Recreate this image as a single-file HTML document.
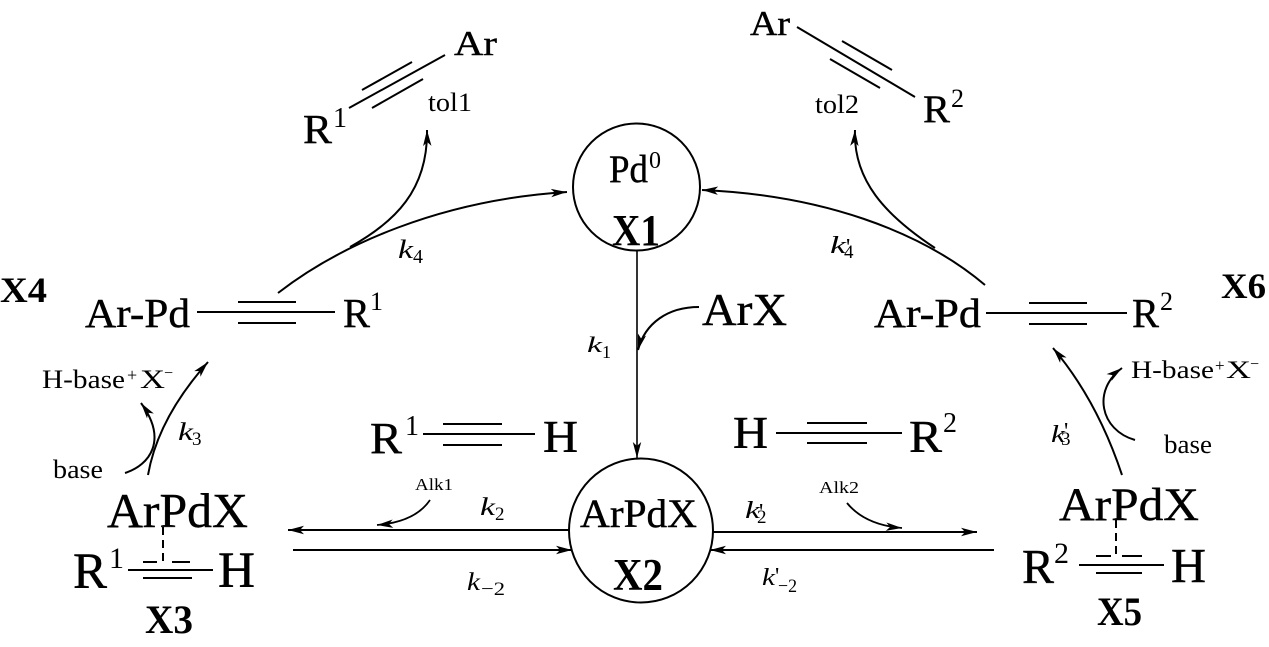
<!DOCTYPE html>
<html>
<head>
<meta charset="utf-8">
<style>
html,body{margin:0;padding:0;background:#fff;}
svg{display:block;}
text{font-family:"Liberation Serif","Times New Roman",serif;fill:#000;}
.h{stroke:#000;stroke-width:0.4;}
.i{font-style:italic;}
.b{font-weight:bold;}
</style>
</head>
<body>
<svg width="1269" height="647" viewBox="0 0 1269 647" xmlns="http://www.w3.org/2000/svg">
<defs>
<marker id="ah" markerUnits="userSpaceOnUse" viewBox="-17 -6 18 12" markerWidth="18" markerHeight="12" refX="0" refY="0" orient="auto">
<path d="M0,0 L-16,-4.2 L-12,0 L-16,4.2 Z" fill="#000"/>
</marker>
</defs>

<g stroke="#000" stroke-width="2" fill="none">
<circle cx="636.5" cy="187" r="63.5"/>
<circle cx="641" cy="530.5" r="72"/>

<line x1="349" y1="108" x2="445" y2="55"/>
<line x1="362" y1="90" x2="412" y2="62"/>
<line x1="372" y1="108" x2="423" y2="79"/>

<line x1="797" y1="27" x2="915" y2="97"/>
<line x1="842" y1="41" x2="892" y2="70"/>
<line x1="830" y1="59" x2="880" y2="88"/>

<line x1="197" y1="312" x2="335" y2="312"/>
<line x1="238" y1="302" x2="296" y2="302"/>
<line x1="238" y1="323" x2="296" y2="323"/>

<line x1="986" y1="313" x2="1127" y2="313"/>
<line x1="1029" y1="303" x2="1087" y2="303"/>
<line x1="1029" y1="324" x2="1087" y2="324"/>

<line x1="423" y1="434" x2="535" y2="434"/>
<line x1="443" y1="424" x2="502" y2="424"/>
<line x1="443" y1="445" x2="502" y2="445"/>

<line x1="776" y1="433" x2="902" y2="433"/>
<line x1="807" y1="423" x2="867" y2="423"/>
<line x1="807" y1="443" x2="867" y2="443"/>

<line x1="128" y1="570" x2="213" y2="570"/>
<line x1="143" y1="562" x2="157" y2="562"/>
<line x1="172" y1="562" x2="190" y2="562"/>
<line x1="143" y1="578" x2="192" y2="578"/>
<line x1="163" y1="527" x2="163" y2="562" stroke-dasharray="8,5"/>

<line x1="1079" y1="565" x2="1164" y2="565"/>
<line x1="1096" y1="556" x2="1111" y2="556"/>
<line x1="1122" y1="556" x2="1142" y2="556"/>
<line x1="1096" y1="573" x2="1142" y2="573"/>
<line x1="1116" y1="520" x2="1116" y2="557" stroke-dasharray="8,5"/>

<path d="M278,293 C340,245 440,200 567,192" marker-end="url(#ah)"/>
<path d="M350,247 C395,222 428,190 427,130" marker-end="url(#ah)"/>
<path d="M985,285 C920,230 820,195 702,190" marker-end="url(#ah)"/>
<path d="M935,248 C885,215 853,180 855,130" marker-end="url(#ah)"/>
<path d="M637,250 L637,458" stroke-width="1.6" marker-end="url(#ah)"/>
<path d="M699,307 C668,307 645,323 638,350" marker-end="url(#ah)"/>
<path d="M569,530 L288,530" marker-end="url(#ah)"/>
<path d="M293,550 L572,550" marker-end="url(#ah)"/>
<path d="M430,500 Q415,522 377,525" stroke-width="1.8" marker-end="url(#ah)"/>
<path d="M713,532 L977,532" marker-end="url(#ah)"/>
<path d="M994,550 L710,550" marker-end="url(#ah)"/>
<path d="M847,503 Q865,525 902,528" stroke-width="1.8" marker-end="url(#ah)"/>
<path d="M148,475 Q158,418 208,362" marker-end="url(#ah)"/>
<path d="M125,473 C150,465 168,440 141,403" marker-end="url(#ah)"/>
<path d="M1122,475 Q1097,400 1053,348" marker-end="url(#ah)"/>
<path d="M1135,440 C1100,430 1092,390 1122,368" marker-end="url(#ah)"/>
</g>

<text class="h" x="454" y="55" font-size="35" textLength="43" lengthAdjust="spacingAndGlyphs">Ar</text>
<text class="h" x="303" y="143" font-size="41" textLength="29" lengthAdjust="spacingAndGlyphs">R</text>
<text x="333" y="127" font-size="28">1</text>
<text x="428" y="111" font-size="26" textLength="44" lengthAdjust="spacingAndGlyphs">tol1</text>

<text class="h" x="750" y="35" font-size="35" textLength="40" lengthAdjust="spacingAndGlyphs">Ar</text>
<text class="h" x="923" y="122" font-size="39" textLength="27" lengthAdjust="spacingAndGlyphs">R</text>
<text x="951" y="107" font-size="26">2</text>
<text x="815" y="113" font-size="26" textLength="44" lengthAdjust="spacingAndGlyphs">tol2</text>

<text class="h" x="609" y="182" font-size="39" textLength="39" lengthAdjust="spacingAndGlyphs">Pd</text>
<text x="649" y="168" font-size="24">0</text>
<text x="612" y="245" font-size="44" class="b" textLength="48" lengthAdjust="spacingAndGlyphs">X1</text>

<text x="398" y="258" font-size="26" class="i" textLength="15" lengthAdjust="spacingAndGlyphs">k</text>
<text x="413" y="263" font-size="20">4</text>
<text x="830" y="253" font-size="24" class="i" textLength="16" lengthAdjust="spacingAndGlyphs">k</text>
<text x="846" y="255" font-size="24">'</text>
<text x="844" y="258" font-size="19">4</text>

<text x="0" y="302" font-size="36" class="b" textLength="47" lengthAdjust="spacingAndGlyphs">X4</text>
<text class="h" x="85" y="327" font-size="41" textLength="105" lengthAdjust="spacingAndGlyphs">Ar-Pd</text>
<text class="h" x="343" y="327" font-size="41" textLength="27" lengthAdjust="spacingAndGlyphs">R</text>
<text x="370" y="310" font-size="26">1</text>

<text x="1221" y="298" font-size="36" class="b" textLength="45" lengthAdjust="spacingAndGlyphs">X6</text>
<text class="h" x="874" y="327" font-size="41" textLength="107" lengthAdjust="spacingAndGlyphs">Ar-Pd</text>
<text class="h" x="1132" y="327" font-size="41" textLength="27" lengthAdjust="spacingAndGlyphs">R</text>
<text x="1160" y="310" font-size="26">2</text>

<text class="h" x="702" y="325" font-size="46" textLength="85" lengthAdjust="spacingAndGlyphs">ArX</text>
<text x="587" y="352" font-size="22" class="i" textLength="15" lengthAdjust="spacingAndGlyphs">k</text>
<text x="602" y="358" font-size="18">1</text>

<text class="h" x="370" y="453" font-size="44" textLength="32" lengthAdjust="spacingAndGlyphs">R</text>
<text x="405" y="435" font-size="28">1</text>
<text class="h" x="543" y="452" font-size="45" textLength="35" lengthAdjust="spacingAndGlyphs">H</text>

<text class="h" x="733" y="448" font-size="45" textLength="35" lengthAdjust="spacingAndGlyphs">H</text>
<text class="h" x="909" y="452" font-size="45" textLength="33" lengthAdjust="spacingAndGlyphs">R</text>
<text x="943" y="432" font-size="28">2</text>

<text x="42" y="388" font-size="26" textLength="83" lengthAdjust="spacingAndGlyphs">H-base</text>
<text x="127" y="381" font-size="18">+</text>
<text x="140" y="388" font-size="26" textLength="25" lengthAdjust="spacingAndGlyphs">X</text>
<text x="164" y="378" font-size="16">−</text>
<text x="53" y="478" font-size="26" textLength="50" lengthAdjust="spacingAndGlyphs">base</text>
<text x="178" y="440" font-size="25" class="i" textLength="15" lengthAdjust="spacingAndGlyphs">k</text>
<text x="192" y="445" font-size="19">3</text>

<text x="1131" y="378" font-size="25" textLength="83" lengthAdjust="spacingAndGlyphs">H-base</text>
<text x="1215" y="371" font-size="17">+</text>
<text x="1226" y="378" font-size="25" textLength="25" lengthAdjust="spacingAndGlyphs">X</text>
<text x="1250" y="369" font-size="16">−</text>
<text x="1164" y="453" font-size="26" textLength="48" lengthAdjust="spacingAndGlyphs">base</text>
<text x="1051" y="442" font-size="24" class="i" textLength="14" lengthAdjust="spacingAndGlyphs">k</text>
<text x="1064" y="439" font-size="24">'</text>
<text x="1061" y="445" font-size="19">3</text>

<text class="h" x="107" y="527" font-size="49" textLength="141" lengthAdjust="spacingAndGlyphs">ArPdX</text>
<text class="h" x="73" y="588" font-size="51" textLength="34" lengthAdjust="spacingAndGlyphs">R</text>
<text x="109" y="568" font-size="30">1</text>
<text class="h" x="218" y="587" font-size="51" textLength="37" lengthAdjust="spacingAndGlyphs">H</text>
<text x="145" y="633" font-size="40" class="b" textLength="48" lengthAdjust="spacingAndGlyphs">X3</text>

<text x="415" y="490" font-size="17" textLength="38" lengthAdjust="spacingAndGlyphs">Alk1</text>
<text x="480" y="515" font-size="25" class="i" textLength="15" lengthAdjust="spacingAndGlyphs">k</text>
<text x="495" y="520" font-size="19">2</text>
<text x="467" y="590" font-size="25" class="i" textLength="13" lengthAdjust="spacingAndGlyphs">k</text>
<text x="481" y="595" font-size="19" textLength="24" lengthAdjust="spacingAndGlyphs">−2</text>

<text class="h" x="580" y="527" font-size="40" textLength="117" lengthAdjust="spacingAndGlyphs">ArPdX</text>
<text x="613" y="590" font-size="45" class="b" textLength="50" lengthAdjust="spacingAndGlyphs">X2</text>

<text x="819" y="493" font-size="17" textLength="40" lengthAdjust="spacingAndGlyphs">Alk2</text>
<text x="745" y="518" font-size="24" class="i" textLength="15" lengthAdjust="spacingAndGlyphs">k</text>
<text x="759" y="520" font-size="24">'</text>
<text x="757" y="523" font-size="19">2</text>
<text x="762" y="585" font-size="24" class="i" textLength="13" lengthAdjust="spacingAndGlyphs">k</text>
<text x="775" y="584" font-size="24">'</text>
<text x="778" y="592" font-size="19" textLength="19" lengthAdjust="spacingAndGlyphs">−2</text>

<text class="h" x="1059" y="520" font-size="47" textLength="140" lengthAdjust="spacingAndGlyphs">ArPdX</text>
<text class="h" x="1022" y="583" font-size="49" textLength="32" lengthAdjust="spacingAndGlyphs">R</text>
<text x="1054" y="563" font-size="30">2</text>
<text class="h" x="1171" y="582" font-size="49" textLength="35" lengthAdjust="spacingAndGlyphs">H</text>
<text x="1097" y="625" font-size="40" class="b" textLength="45" lengthAdjust="spacingAndGlyphs">X5</text>
</svg>
</body>
</html>
